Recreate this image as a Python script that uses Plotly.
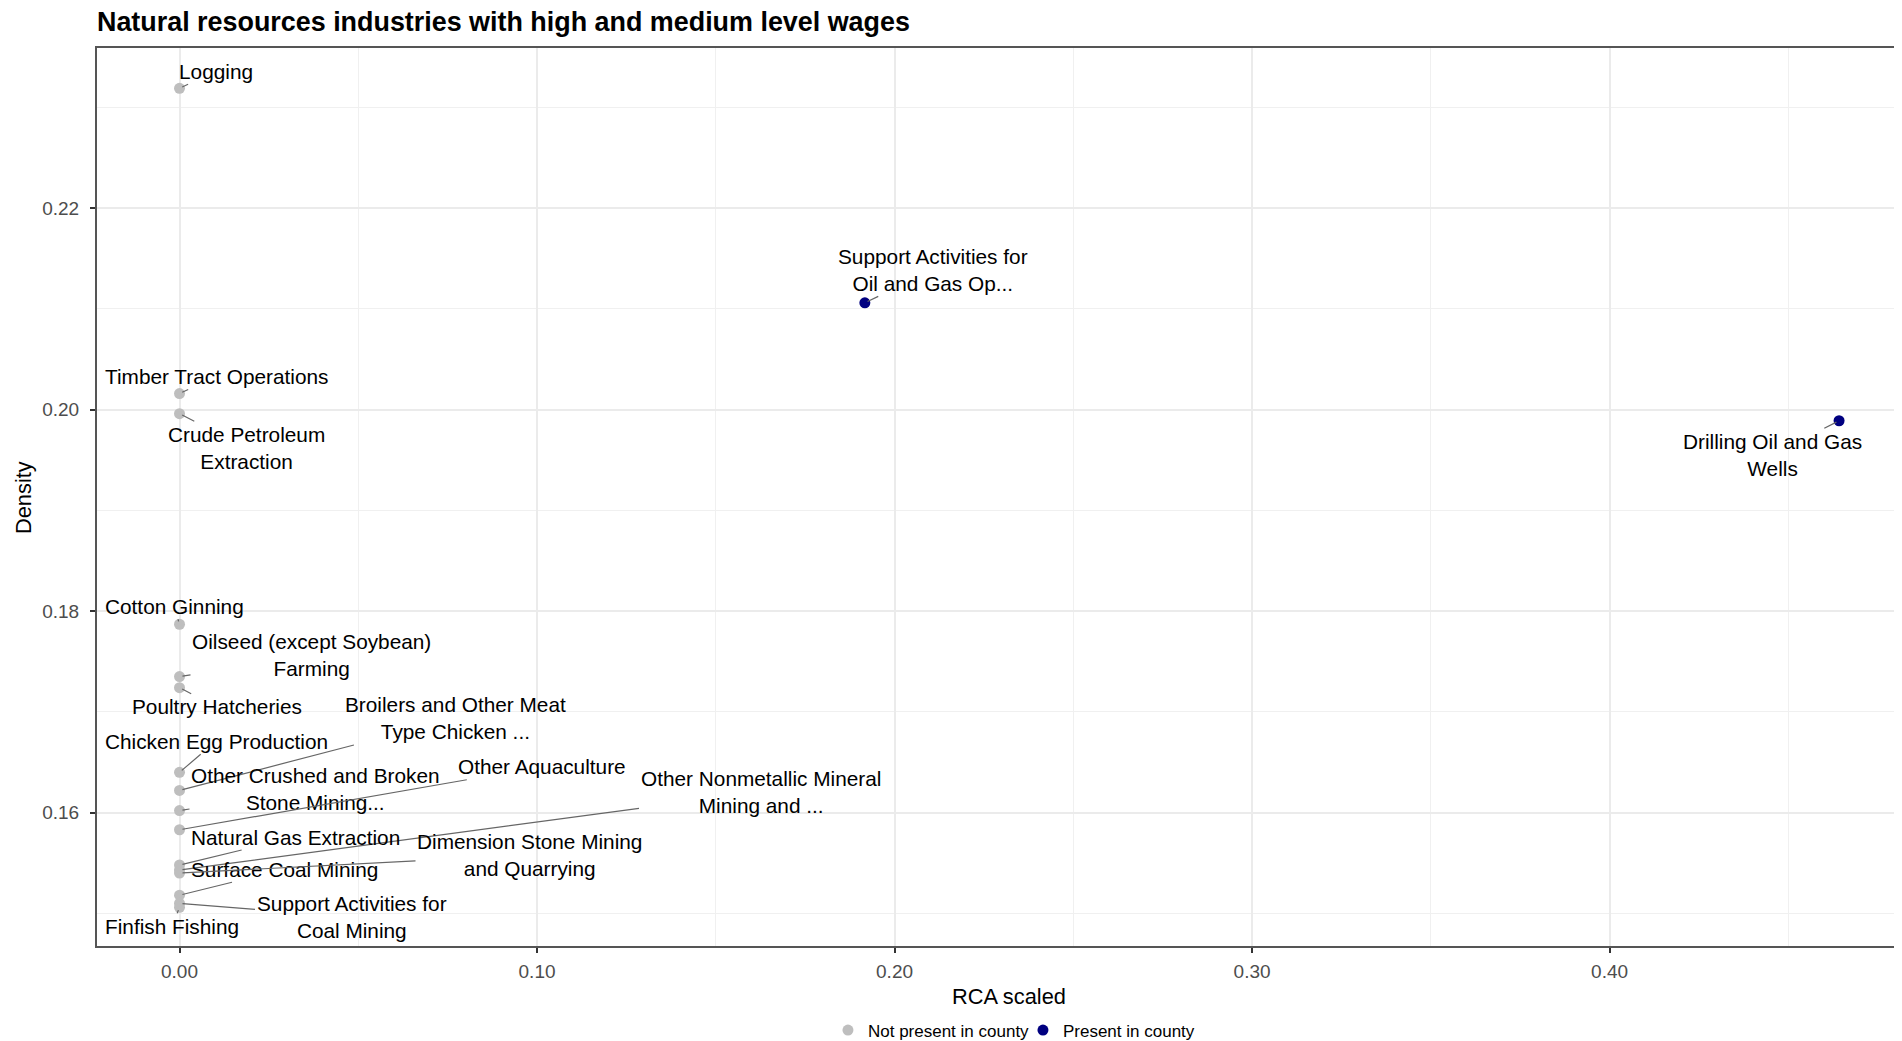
import plotly.graph_objects as go

# ---------------- data ----------------
industries = [
    "Logging",
    "Support Activities for\nOil and Gas Op...",
    "Timber Tract Operations",
    "Crude Petroleum\nExtraction",
    "Drilling Oil and Gas\nWells",
    "Cotton Ginning",
    "Oilseed (except Soybean)\nFarming",
    "Poultry Hatcheries",
    "Chicken Egg Production",
    "Broilers and Other Meat\nType Chicken ...",
    "Other Crushed and Broken\nStone Mining...",
    "Other Aquaculture",
    "Other Nonmetallic Mineral\nMining and ...",
    "Natural Gas Extraction",
    "Surface Coal Mining",
    "Dimension Stone Mining\nand Quarrying",
    "Support Activities for\nCoal Mining",
    "Finfish Fishing",
]
rca_scaled = [0.0, 0.1917, 0.0, 0.0, 0.4642, 0.0, 0.0, 0.0, 0.0,
              0.0, 0.0, 0.0, 0.0, 0.0, 0.0, 0.0, 0.0, 0.0]
density = [0.2319, 0.2106, 0.2016, 0.1996, 0.1989, 0.1787, 0.1735, 0.1724,
           0.1640, 0.1622, 0.1602, 0.1583, 0.1543, 0.1548, 0.1518, 0.1540,
           0.1510, 0.1506]
present = [False, True, False, False, True, False, False, False, False,
           False, False, False, False, False, False, False, False, False]

x_ticks = [0.0, 0.1, 0.2, 0.3, 0.4]
y_ticks = [0.16, 0.18, 0.20, 0.22]

# ---------------- layout helpers (label placement, px offsets) ----------------
label_offsets = [
    (36.5, -17), (68, -33), (37, -17), (67, 34), (-67, 34), (-5.5, -18),
    (132, -22), (37, 19), (36.5, -31), (276, -72), (136, -22), (362, -63),
    (581, -78), (116, -28), (105, -26), (350, -18), (172, 14), (-7.5, 19),
]

FONT = "Liberation Sans, Arial, Helvetica, sans-serif"
groups = [(False, "Not present in county", "#bebebe"),
          (True, "Present in county", "#000080")]

fig = go.Figure()
for flag, name, color in groups:
    xs = [x for x, p in zip(rca_scaled, present) if p == flag]
    ys = [y for y, p in zip(density, present) if p == flag]
    fig.add_trace(go.Scatter(
        x=xs, y=ys, mode="markers", name=name,
        marker=dict(color=color, size=11, line=dict(width=0)),
    ))

annotations = []
for name, x, y, (ax, ay) in zip(industries, rca_scaled, density, label_offsets):
    annotations.append(dict(
        x=x, y=y, xref="x", yref="y", text=name.replace("\n", "<br>"),
        showarrow=True, arrowhead=0, arrowwidth=1.2, arrowcolor="#666666",
        ax=ax, ay=ay, axref="pixel", ayref="pixel", standoff=3,
        font=dict(family=FONT, size=20.8, color="#000000"), align="center",
    ))

# axis titles
annotations.append(dict(
    text="RCA scaled", xref="paper", yref="paper", x=0.5053, y=-0.0557,
    showarrow=False, xanchor="center", yanchor="middle",
    font=dict(family=FONT, size=21.8, color="#000000")))
annotations.append(dict(
    text="Density", xref="paper", yref="paper", x=-0.041, y=0.5,
    showarrow=False, xanchor="center", yanchor="middle", textangle=-90,
    font=dict(family=FONT, size=21.8, color="#000000")))

axis_common = dict(
    showgrid=True, gridcolor="#ebebeb", gridwidth=2,
    zeroline=False, showline=True, linecolor="#555555", linewidth=2,
    ticks="outside", ticklen=5, tickwidth=1.5, tickcolor="#333333",
    tickfont=dict(family=FONT, size=19, color="#4d4d4d"),
    tickformat=".2f", automargin=False,
)

W, H = 1894, 1033  # page body has an 8px margin
fig.update_layout(
    width=W, height=H,
    margin=dict(l=89, r=0, t=40, b=95, autoexpand=False),
    paper_bgcolor="white", plot_bgcolor="white",
    title=dict(text="Natural resources industries with high and medium level wages",
               x=89 / W, xanchor="left", y=1 - 13.5 / H, yanchor="middle",
               font=dict(family=FONT, size=26.9, color="#000000", weight="bold")),
    xaxis=dict(axis_common, range=[-0.02308, 0.4818], tickvals=x_ticks,
               mirror=True, ticklabelstandoff=2,
               minor=dict(showgrid=True, gridcolor="#f0f0f0", gridwidth=1, dtick=0.05)),
    yaxis=dict(axis_common, range=[0.14676, 0.2359], tickvals=y_ticks,
               mirror=False, ticklabelstandoff=7,
               minor=dict(showgrid=True, gridcolor="#f0f0f0", gridwidth=1,
                          tickvals=[0.15, 0.17, 0.19, 0.21, 0.23])),
    showlegend=True,
    legend=dict(orientation="h", x=0.513, xanchor="center",
                yref="container", y=10.5 / H, yanchor="middle",
                font=dict(family=FONT, size=17, color="#000000"),
                itemwidth=30, entrywidth=150, entrywidthmode="pixels",
                bgcolor="rgba(0,0,0,0)"),
    annotations=annotations,
)

fig.write_html("out.html")
